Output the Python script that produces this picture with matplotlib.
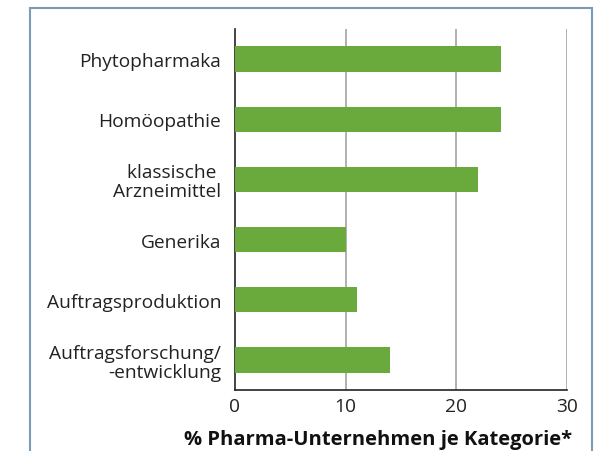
import matplotlib
matplotlib.use("Agg")
import matplotlib.pyplot as plt
from matplotlib.patches import Rectangle

categories = ["Phytopharmaka", "Homöopathie", "klassische \nArzneimittel",
              "Generika", "Auftragsproduktion", "Auftragsforschung/\n-entwicklung"]
values = [24, 24, 22, 10, 11, 14]
xticks = [0, 10, 20, 30]
xlabel = "% Pharma-Unternehmen je Kategorie*"

plt.rcParams['font.family'] = ['Open Sans', 'DejaVu Sans']

fig = plt.figure(figsize=(6.02, 4.52), dpi=100)
ax = fig.add_axes([235/602, 1 - 391/452, (567-235)/602, (391-30)/452])

ypos = list(range(len(categories)))
ax.barh(ypos, values, height=0.42, color="#6aaa3c", zorder=3)
ax.set_ylim(len(categories) - 0.5, -0.5)
ax.set_xlim(0, 30)
ax.set_xticks(xticks)
ax.set_yticks(ypos)
ax.set_yticklabels(categories, fontsize=13.8, color="#222222", ha="right",
                   multialignment="right", linespacing=1.05)
ax.tick_params(axis="both", length=0, colors="#222222")
ax.tick_params(axis="x", labelsize=13.8, pad=5)
ax.tick_params(axis="y", pad=10)

for x in xticks[1:]:
    ax.axvline(x, color="#aaaaaa", lw=1.3, zorder=1)

for s in ["top", "right"]:
    ax.spines[s].set_visible(False)
for s in ["left", "bottom"]:
    ax.spines[s].set_color("#222222")
    ax.spines[s].set_linewidth(1.2)

fig.text(378/602, 1 - 440/452, xlabel, ha="center", va="center",
         fontsize=14.5, fontweight="bold", color="#111111")

# frame around the figure (open at the bottom)
fig.patches.append(Rectangle((30/602, -0.1), (592-30)/602, 1.1 - 9/452,
                             transform=fig.transFigure, fill=False,
                             edgecolor="#7a9cb8", lw=1.5))

fig.savefig("out.png", dpi=100)
